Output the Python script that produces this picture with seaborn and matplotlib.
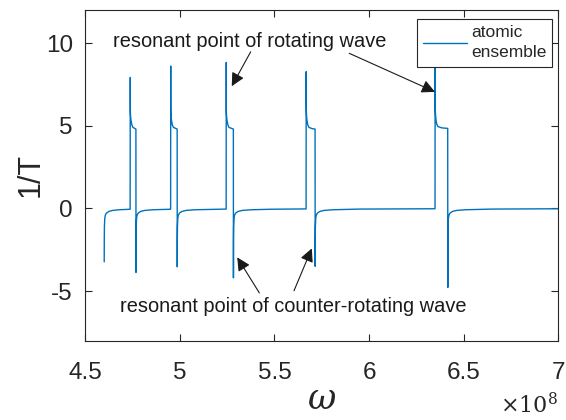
import numpy as np
import pandas as pd
import matplotlib
matplotlib.use("Agg")
import matplotlib.pyplot as plt
import seaborn as sns

# omega in units of 1e8
omega_1e8 = [
    4.6000, 4.6003, 4.6010, 4.6030, 4.6060, 4.6120, 4.6250, 4.6450, 4.6800, 4.7370,
    4.7377, 4.7380, 4.7385, 4.7395, 4.7420, 4.7460, 4.7520, 4.7675,
    4.7680, 4.7683, 4.7690, 4.7710, 4.7740, 4.7800, 4.7930, 4.8150, 4.8600, 4.9510,
    4.9515, 4.9518, 4.9523, 4.9533, 4.9560, 4.9600, 4.9660, 4.9855,
    4.9860, 4.9863, 4.9870, 4.9890, 4.9920, 4.9980, 5.0110, 5.0330, 5.0800, 5.2445,
    5.2450, 5.2453, 5.2458, 5.2468, 5.2495, 5.2535, 5.2595, 5.2825,
    5.2830, 5.2833, 5.2840, 5.2860, 5.2890, 5.2950, 5.3080, 5.3300, 5.3800, 5.4800, 5.6670,
    5.6675, 5.6678, 5.6683, 5.6693, 5.6720, 5.6760, 5.6820, 5.7000, 5.7145,
    5.7150, 5.7153, 5.7160, 5.7180, 5.7210, 5.7270, 5.7400, 5.7620, 5.8100, 5.9500, 6.3485,
    6.3490, 6.3493, 6.3498, 6.3508, 6.3535, 6.3575, 6.3635, 6.3850, 6.4155,
    6.4160, 6.4163, 6.4170, 6.4190, 6.4220, 6.4280, 6.4410, 6.4630, 6.5100, 6.6500, 7.0000,
]
inv_T = [
    -3.23, -2.00, -1.10, -0.60, -0.40, -0.28, -0.18, -0.12, -0.08, -0.05,
    7.92, 6.00, 5.75, 5.55, 5.30, 5.05, 4.90, 4.80,
    -3.87, -2.00, -1.10, -0.60, -0.40, -0.28, -0.18, -0.12, -0.08, -0.05,
    8.61, 6.10, 5.80, 5.55, 5.30, 5.05, 4.90, 4.80,
    -3.53, -2.00, -1.10, -0.60, -0.40, -0.28, -0.18, -0.12, -0.08, -0.04,
    8.83, 6.00, 5.75, 5.55, 5.30, 5.05, 4.90, 4.80,
    -4.20, -2.00, -1.10, -0.60, -0.40, -0.28, -0.18, -0.12, -0.08, -0.05, -0.03,
    8.27, 6.30, 5.90, 5.60, 5.30, 5.05, 4.90, 4.82, 4.80,
    -3.50, -2.00, -1.10, -0.60, -0.40, -0.28, -0.18, -0.12, -0.08, -0.04, -0.02,
    9.60, 6.40, 6.00, 5.70, 5.35, 5.10, 4.95, 4.87, 4.84,
    -4.78, -2.00, -1.10, -0.60, -0.40, -0.28, -0.18, -0.12, -0.08, -0.04, -0.02,
]
x_ticks = [4.5, 5, 5.5, 6, 6.5, 7]
x_ticklabels = ["4.5", "5", "5.5", "6", "6.5", "7"]
y_ticks = [-5, 0, 5, 10]
y_ticklabels = ["-5", "0", "5", "10"]
series_label = "atomic\nensemble"
top_text = "resonant point of rotating wave"
bottom_text = "resonant point of counter-rotating wave"

df = pd.DataFrame({"omega": omega_1e8, "invT": inv_T})

sns.set_theme(style="white")
plt.rcParams["font.family"] = ["Liberation Sans", "DejaVu Sans"]
plt.rcParams["mathtext.fontset"] = "dejavuserif"

fig = plt.figure(figsize=(5.66, 4.2), dpi=100)
ax = fig.add_axes([0.1507, 0.1888, 0.9864 - 0.1507, 0.9762 - 0.1888])

sns.lineplot(data=df, x="omega", y="invT", estimator=None, sort=False,
             color="#0072BD", lw=1.0, label=series_label, ax=ax)

ax.set_xlim(4.5, 7)
ax.set_ylim(-8, 12)
ax.set_xticks(x_ticks)
ax.set_xticklabels(x_ticklabels)
ax.set_yticks(y_ticks)
ax.set_yticklabels(y_ticklabels)

axcol = "#262626"
for s in ax.spines.values():
    s.set_visible(True)
    s.set_color(axcol)
    s.set_linewidth(0.8)
ax.tick_params(direction="in", length=5, width=0.8, colors=axcol,
               labelsize=17.5, labelcolor="#262626",
               top=True, right=True, bottom=True, left=True)
ax.tick_params(axis="x", pad=15)
ax.tick_params(axis="y", pad=9)

ax.set_xlabel(r"$\omega$", fontsize=25, labelpad=-0.5, color="#262626")
ax.set_ylabel("1/T", fontsize=22, labelpad=0, color="#262626")
fig.text(0.9864, 0.004, r"$\times10^{8}$", ha="right", va="bottom",
         fontsize=16, color="#262626", family=["Liberation Sans", "DejaVu Sans"])

ax.text(5.367, 9.78, top_text, ha="center", va="baseline", fontsize=14.4, color="k")
ax.text(5.601, -6.26, bottom_text, ha="center", va="baseline", fontsize=14.4, color="k")

arrow = dict(arrowstyle="-|>", color="k", lw=0.8, mutation_scale=20, shrinkA=0, shrinkB=0)
ax.annotate("", xy=(5.274, 7.39), xytext=(5.374, 9.47), arrowprops=arrow)
ax.annotate("", xy=(6.348, 7.05), xytext=(5.895, 9.38), arrowprops=arrow)
ax.annotate("", xy=(5.303, -2.96), xytext=(5.420, -5.11), arrowprops=arrow)
ax.annotate("", xy=(5.697, -2.42), xytext=(5.603, -4.98), arrowprops=arrow)

leg = ax.legend(loc="upper right", bbox_to_anchor=(0.9873, 0.9728), borderaxespad=0,
                fontsize=12.5, handlelength=2.5, handletextpad=0.25, borderpad=0.35,
                frameon=True, fancybox=False, framealpha=1)
for t in leg.get_texts():
    t.set_linespacing(1.45)
leg.get_frame().set_edgecolor(axcol)
leg.get_frame().set_linewidth(0.8)

fig.savefig("out.png", dpi=100)
